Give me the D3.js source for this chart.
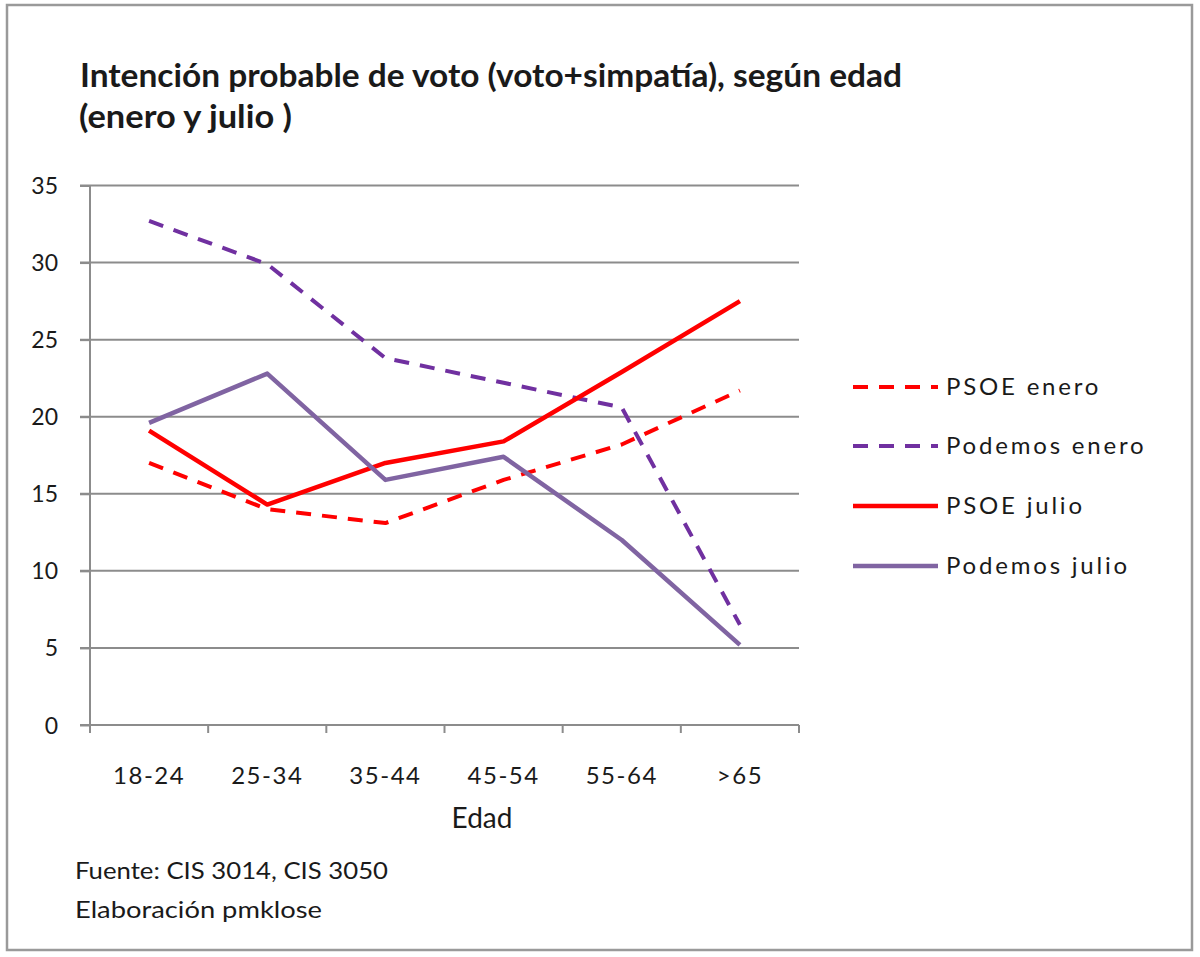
<!DOCTYPE html>
<html><head><meta charset="utf-8">
<script src="https://cdn.jsdelivr.net/npm/d3@7"></script>
<style>body{margin:0;background:#fff}svg{display:block}text{font-family:Lato,"Open Sans",sans-serif;fill:#1a1a1a}</style>
</head><body><svg id="c" width="1200" height="957"></svg>
<script>
const categories = ["18-24","25-34","35-44","45-54","55-64",">65"];
const psoeEnero    = [17.0, 14.0, 13.1, 15.9, 18.2, 21.7];
const podemosEnero = [32.7, 29.9, 23.8, 22.2, 20.6, 6.5];
const psoeJulio    = [19.1, 14.3, 17.0, 18.4, 22.9, 27.5];
const podemosJulio = [19.6, 22.8, 15.9, 17.4, 12.0, 5.2];
const yTicks = [0,5,10,15,20,25,30,35];
const seriesNames = ["PSOE enero","Podemos enero","PSOE julio","Podemos julio"];

const series = [
  {name: seriesNames[0], values: psoeEnero, color: "#ff0000", dash: "15,11", width: 4},
  {name: seriesNames[1], values: podemosEnero, color: "#7030a0", dash: "15,11", width: 4},
  {name: seriesNames[2], values: psoeJulio, color: "#ff0000", dash: null, width: 4.5},
  {name: seriesNames[3], values: podemosJulio, color: "#8064a2", dash: null, width: 4.5}
];

const svg = d3.select("#c");
svg.append("rect").attr("x",7).attr("y",5).attr("width",1185).attr("height",945)
  .attr("fill","#fff").attr("stroke","#9a9a9a").attr("stroke-width",2.5);

svg.append("text").attr("x",80).attr("y",87).attr("font-size",33).attr("font-weight","bold")
  .attr("textLength",822).attr("lengthAdjust","spacingAndGlyphs")
  .text("Intención probable de voto (voto+simpatía), según edad");
svg.append("text").attr("x",79).attr("y",128).attr("font-size",33).attr("font-weight","bold")
  .attr("textLength",213).attr("lengthAdjust","spacingAndGlyphs")
  .text("(enero y julio )");

const x = d3.scaleBand().domain(categories).range([90,799]).padding(0);
const y = d3.scaleLinear().domain([0,35]).range([725,185.5]);

const grid = svg.append("g");
grid.selectAll("line").data(yTicks).join("line")
  .attr("x1",80).attr("x2",799).attr("y1",d=>y(d)).attr("y2",d=>y(d))
  .attr("stroke","#8c8c8c").attr("stroke-width",2);

const yAxis = svg.append("g").attr("transform","translate(90,0)")
  .call(d3.axisLeft(y).tickValues(yTicks).tickSize(10).tickPadding(22));
yAxis.select(".domain").attr("stroke","#8c8c8c").attr("stroke-width",2).attr("d","M0,725V185.5");
yAxis.selectAll(".tick line").attr("stroke","#8c8c8c").attr("stroke-width",2);
yAxis.selectAll(".tick text").attr("font-size",23).attr("font-family","Lato, sans-serif").attr("fill","#1a1a1a").attr("dy","0.35em");

const xAxis = svg.append("g").attr("transform","translate(0,725)")
  .call(d3.axisBottom(x).tickSize(0).tickPadding(42));
xAxis.select(".domain").attr("stroke","#8c8c8c").attr("stroke-width",2).attr("d","M90,0H799");
xAxis.selectAll(".tick text").attr("font-size",24).attr("letter-spacing",1.5).attr("font-family","Lato, sans-serif").attr("fill","#1a1a1a");
const bounds = categories.map(c=>x(c)).concat([x.range()[1]]);
svg.append("g").selectAll("line").data(bounds).join("line")
  .attr("x1",d=>d).attr("x2",d=>d).attr("y1",725).attr("y2",733)
  .attr("stroke","#8c8c8c").attr("stroke-width",2);

svg.append("text").attr("x",482).attr("y",828).attr("text-anchor","middle").attr("font-size",28).text("Edad");

const line = d3.line().x((d,i)=>x(categories[i])+x.bandwidth()/2).y(d=>y(d));
svg.append("g").selectAll("path").data(series).join("path")
  .attr("d",d=>line(d.values)).attr("fill","none")
  .attr("stroke",d=>d.color).attr("stroke-width",d=>d.width)
  .attr("stroke-dasharray",d=>d.dash).attr("stroke-linejoin","round");

const legY = [387,446,506,566];
const leg = svg.append("g").selectAll("g").data(series).join("g")
  .attr("transform",(d,i)=>`translate(853,${legY[i]})`);
leg.append("line").attr("x1",0).attr("x2",85).attr("y1",0).attr("y2",0)
  .attr("stroke",d=>d.color).attr("stroke-width",d=>d.width).attr("stroke-dasharray",d=>d.dash);
leg.append("text").attr("x",93).attr("dy","0.35em").attr("font-size",24).attr("letter-spacing",2.8).text(d=>d.name);

svg.append("text").attr("x",75).attr("y",879).attr("font-size",23)
  .attr("textLength",313).attr("lengthAdjust","spacingAndGlyphs").text("Fuente: CIS 3014,  CIS 3050");
svg.append("text").attr("x",75).attr("y",918).attr("font-size",23)
  .attr("textLength",247).attr("lengthAdjust","spacingAndGlyphs").text("Elaboración pmklose");
</script></body></html>
